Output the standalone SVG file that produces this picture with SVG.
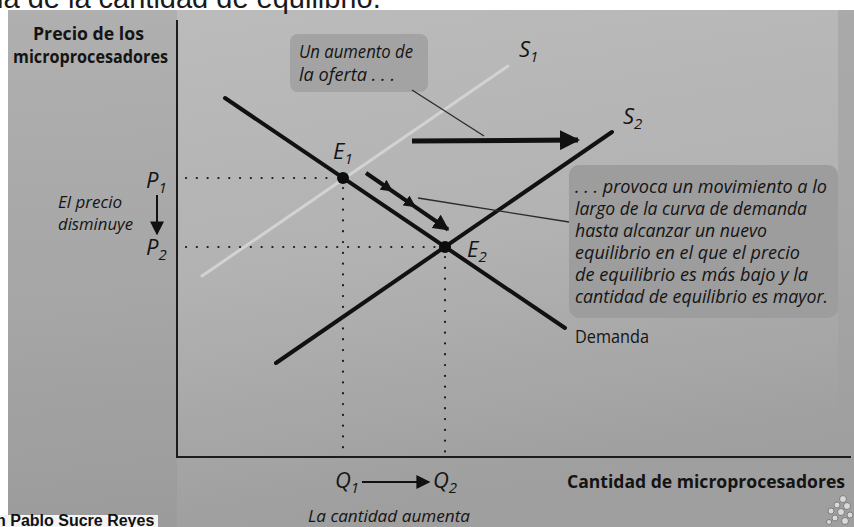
<svg xmlns="http://www.w3.org/2000/svg" width="854" height="527" viewBox="0 0 854 527">
  <defs>
    <linearGradient id="paper" x1="0" y1="0" x2="0.25" y2="1">
      <stop offset="0" stop-color="#bcbcbc"/>
      <stop offset="0.55" stop-color="#b2b2b2"/>
      <stop offset="1" stop-color="#9f9f9f"/>
    </linearGradient>
    <linearGradient id="leftband" x1="0" y1="0" x2="0" y2="1">
      <stop offset="0" stop-color="#aaaaaa"/>
      <stop offset="1" stop-color="#999999"/>
    </linearGradient>
    <marker id="head" viewBox="0 0 10 10" refX="9" refY="5" markerWidth="4" markerHeight="4" orient="auto" markerUnits="strokeWidth">
      <path d="M0,0 L10,5 L0,10 z" fill="#111"/>
    </marker>
    <marker id="headThin" viewBox="0 0 10 10" refX="9" refY="5" markerWidth="7" markerHeight="7" orient="auto" markerUnits="strokeWidth">
      <path d="M0,0 L10,5 L0,10 z" fill="#111"/>
    </marker>
    <marker id="midhead" viewBox="0 0 10 10" refX="7" refY="5" markerWidth="3" markerHeight="3" orient="auto" markerUnits="strokeWidth">
      <path d="M0,0 L10,5 L0,10 z" fill="#111"/>
    </marker>
  </defs>
  <style>
    .lbl { font-family: "Open Sans", "Noto Sans", "Liberation Sans", sans-serif; fill: #141414; }
    .it { font-style: italic; }
    .bd { font-weight: 700; }
    .box { stroke: none; }
    .curve { fill: none; stroke-linecap: round; }
    .dot { fill: none; stroke: #1a1a1a; stroke-width: 2.2; stroke-dasharray: 0.1 10.7; stroke-linecap: round; }
    .axis { stroke: #1c1c1c; stroke-width: 2; fill: none; }
    .leader { stroke: #2a2a2a; stroke-width: 1.3; fill: none; }
  </style>

  <!-- photo background -->
  <rect x="0" y="0" width="854" height="527" fill="#ffffff"/>
  <rect x="8" y="10" width="846" height="517" fill="url(#paper)"/>
  <rect x="8" y="10" width="169" height="517" fill="url(#leftband)" opacity="0.7"/>
  <rect x="838" y="10" width="16" height="517" fill="#a0a0a0" opacity="0.6"/>
  <text x="-3" y="8" font-family="Liberation Sans, Arial, sans-serif" font-size="29" fill="#1a1a1a">ia de la cantidad de equilibrio.</text>
  <rect x="0" y="515" width="158" height="12" fill="#f4f4f4"/>
  <text x="-4" y="526" font-family="Liberation Sans, Arial, sans-serif" font-size="16" font-weight="700" fill="#111">n Pablo Sucre Reyes</text>

  <!-- axes -->
  <g id="axes">
    <path class="axis" d="M177,20 V457 H851"/>
  </g>

  <g id="y-axis-label">
    <text class="lbl bd" x="33" y="40" font-size="18.5" textLength="111" lengthAdjust="spacingAndGlyphs">Precio de los</text>
    <text class="lbl bd" x="13" y="63" font-size="18.5" textLength="155" lengthAdjust="spacingAndGlyphs">microprocesadores</text>
  </g>

  <g id="x-axis-label">
    <text class="lbl bd" x="567" y="488" font-size="18.5" textLength="278" lengthAdjust="spacingAndGlyphs">Cantidad de microprocesadores</text>
  </g>

  <!-- callout boxes -->
  <g id="callout-oferta">
    <rect class="box" x="290" y="34" width="138" height="58" rx="8" fill="#a3a3a3"/>
    <text class="lbl it" x="299" y="58" font-size="18.5" textLength="114" lengthAdjust="spacingAndGlyphs">Un aumento de</text>
    <text class="lbl it" x="299" y="81" font-size="18.5" textLength="96" lengthAdjust="spacingAndGlyphs">la oferta . . .</text>
  </g>

  <g id="callout-movimiento">
    <rect class="box" x="569" y="165" width="269" height="153" rx="10" fill="#9d9d9d"/>
    <text class="lbl it" x="575" y="193" font-size="17.5" textLength="252" lengthAdjust="spacingAndGlyphs">. . . provoca un movimiento a lo</text>
    <text class="lbl it" x="575" y="215" font-size="17.5" textLength="232" lengthAdjust="spacingAndGlyphs">largo de la curva de demanda</text>
    <text class="lbl it" x="575" y="237" font-size="17.5" textLength="192" lengthAdjust="spacingAndGlyphs">hasta alcanzar un nuevo</text>
    <text class="lbl it" x="575" y="259" font-size="17.5" textLength="225" lengthAdjust="spacingAndGlyphs">equilibrio en el que el precio</text>
    <text class="lbl it" x="575" y="281" font-size="17.5" textLength="233" lengthAdjust="spacingAndGlyphs">de equilibrio es más bajo y la</text>
    <text class="lbl it" x="575" y="303" font-size="17.5" textLength="253" lengthAdjust="spacingAndGlyphs">cantidad de equilibrio es mayor.</text>
  </g>

  <g id="price-note">
    <text class="lbl it" x="58" y="208" font-size="17" textLength="64" lengthAdjust="spacingAndGlyphs">El precio</text>
    <text class="lbl it" x="58" y="230" font-size="17" textLength="75" lengthAdjust="spacingAndGlyphs">disminuye</text>
  </g>

  <!-- curves -->
  <g id="supply-1">
    <line class="curve" x1="202" y1="276" x2="508" y2="66" stroke="#d2d2d2" stroke-width="3"/>
    <text class="lbl it" x="519" y="57" font-size="22">S<tspan font-size="15" dy="5">1</tspan></text>
  </g>
  <g id="supply-2">
    <line class="curve" x1="276" y1="363" x2="612" y2="132" stroke="#111" stroke-width="4"/>
    <text class="lbl it" x="623" y="124" font-size="22">S<tspan font-size="15" dy="5">2</tspan></text>
  </g>
  <g id="demand">
    <line class="curve" x1="225" y1="98" x2="565" y2="328" stroke="#111" stroke-width="4"/>
    <text class="lbl" x="575" y="343" font-size="18" textLength="74" lengthAdjust="spacingAndGlyphs">Demanda</text>
  </g>

  <!-- guides -->
  <g id="guides">
    <line class="dot" x1="186" y1="178" x2="336" y2="178"/>
    <line class="dot" x1="186" y1="247" x2="438" y2="247"/>
    <line class="dot" x1="343" y1="188" x2="343" y2="455"/>
    <line class="dot" x1="445" y1="257" x2="445" y2="455"/>
  </g>

  <g id="E1">
    <circle cx="343" cy="178" r="6" fill="#0d0d0d"/>
    <text class="lbl it" x="333" y="159" font-size="22">E<tspan font-size="15" dy="5">1</tspan></text>
  </g>
  <g id="E2">
    <circle cx="445" cy="247" r="6" fill="#0d0d0d"/>
    <text class="lbl it" x="467" y="257" font-size="22">E<tspan font-size="15" dy="5">2</tspan></text>
  </g>

  <g id="P-labels">
    <text class="lbl it" x="146" y="188" font-size="22">P<tspan font-size="15" dy="5">1</tspan></text>
    <text class="lbl it" x="146" y="255" font-size="22">P<tspan font-size="15" dy="5">2</tspan></text>
  </g>

  <g id="Q-labels">
    <text class="lbl it" x="335" y="488" font-size="22">Q<tspan font-size="15" dy="5">1</tspan></text>
    <text class="lbl it" x="433" y="488" font-size="22">Q<tspan font-size="15" dy="5">2</tspan></text>
    <text class="lbl it" x="308" y="522" font-size="17" textLength="162" lengthAdjust="spacingAndGlyphs">La cantidad aumenta</text>
  </g>

  <!-- connectors -->
  <g id="connectors">
    <line x1="412" y1="141" x2="578" y2="140" stroke="#111" stroke-width="5" marker-end="url(#head)"/>
    <polyline points="366,173 390,189.5 413,205.3 448,229.5" fill="none" stroke="#111" stroke-width="4" marker-mid="url(#midhead)" marker-end="url(#head)"/>
    <line x1="157" y1="195" x2="157" y2="234" stroke="#111" stroke-width="2" marker-end="url(#headThin)"/>
    <line x1="362" y1="482" x2="429" y2="482" stroke="#111" stroke-width="2" marker-end="url(#headThin)"/>
    <line class="leader" x1="412" y1="90" x2="484" y2="136"/>
    <line class="leader" x1="418" y1="198" x2="569" y2="222"/>
  </g>

  <!-- decorative molecule icon -->
  <g id="icon" fill="#d9d9d9" stroke="#6e6e6e" stroke-width="0.8">
    <circle cx="843" cy="499" r="3.5"/>
    <circle cx="837" cy="505" r="3"/>
    <circle cx="847" cy="506" r="3.5"/>
    <circle cx="831" cy="511" r="3"/>
    <circle cx="841" cy="512" r="3.5"/>
    <circle cx="850" cy="515" r="3"/>
    <circle cx="835" cy="518" r="3"/>
    <circle cx="845" cy="521" r="3.5"/>
    <circle cx="829" cy="522" r="2.5"/>
  </g>
</svg>
